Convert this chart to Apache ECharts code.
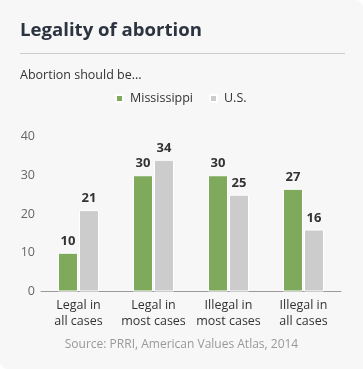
<!DOCTYPE html>
<html>
<head>
<meta charset="utf-8">
<script src="https://cdn.jsdelivr.net/npm/echarts@6/dist/echarts.min.js"></script>
<style>
html,body{margin:0;padding:0;background:#fff;}
#wrap{width:363px;height:369px;background:#f7f7f7;border-radius:0 8px 0 8px;overflow:hidden;}
#chart{width:363px;height:369px;}
</style>
</head>
<body>
<div id="wrap"><div id="chart"></div></div>
<script>
const categories = ["Legal in\nall cases", "Legal in\nmost cases", "Illegal in\nmost cases", "Illegal in\nall cases"];
const mississippi = [10, 30, 30, 26.5];
const us = [21, 34, 25, 16];
const yTicks = [0, 10, 20, 30, 40];
const seriesNames = ["Mississippi", "U.S."];

const chart = echarts.init(document.getElementById('chart'), null, {renderer: 'canvas'});
const font = '"Open Sans", "Noto Sans", sans-serif';
const labelCfg = {
  show: true, position: 'top', distance: 5,
  color: '#333', fontWeight: 'bold', fontSize: 13, fontFamily: font,
  formatter: p => Math.round(p.value)
};
chart.setOption({
  backgroundColor: 'transparent',
  textStyle: {fontFamily: font},
  title: [
    {text: 'Legality of abortion', left: 20, top: 21, padding: 0,
     textStyle: {fontSize: 18.6, fontWeight: 'bold', color: '#2c3440', fontFamily: font}},
    {text: 'Abortion should be...', left: 20, top: 69, padding: 0,
     textStyle: {fontSize: 12.5, fontWeight: 'normal', color: '#333', fontFamily: font}},
    {text: 'Source: PRRI, American Values Atlas, 2014', left: 'center', top: 338.5, padding: 0,
     textStyle: {fontSize: 12, fontWeight: 'normal', color: '#999', fontFamily: font}}
  ],
  graphic: [
    {type: 'line', shape: {x1: 20, y1: 53.5, x2: 345, y2: 53.5},
     style: {stroke: '#cccccc', lineWidth: 1}}
  ],
  legend: {
    data: seriesNames, top: 92, left: 115, padding: 0, icon: 'rect',
    itemWidth: 7, itemHeight: 7, itemGap: 16,
    textStyle: {fontSize: 12.5, color: '#333', fontFamily: font, padding: [0, 0, 0, 2]}
  },
  grid: {left: 41, right: 22, top: 136.5, bottom: 77.5, containLabel: false},
  xAxis: {
    type: 'category', data: categories,
    axisTick: {show: false},
    axisLine: {lineStyle: {color: '#999', width: 1}},
    axisLabel: {color: '#333', fontSize: 12.5, lineHeight: 16, margin: 6, interval: 0, fontFamily: font}
  },
  yAxis: {
    type: 'value', min: yTicks[0], max: yTicks[yTicks.length - 1], interval: 10,
    splitLine: {show: false},
    axisLine: {show: false}, axisTick: {show: false},
    axisLabel: {color: '#666', fontSize: 12.5, margin: 6, fontFamily: font}
  },
  series: [
    {name: seriesNames[0], type: 'bar', data: mississippi, barWidth: 20, barGap: '5%',
     itemStyle: {color: '#7fa95b', borderColor: '#ffffff', borderWidth: 1},
     label: labelCfg},
    {name: seriesNames[1], type: 'bar', data: us, barWidth: 20,
     itemStyle: {color: '#cccccc', borderColor: '#ffffff', borderWidth: 1},
     label: labelCfg}
  ]
});
</script>
</body>
</html>
